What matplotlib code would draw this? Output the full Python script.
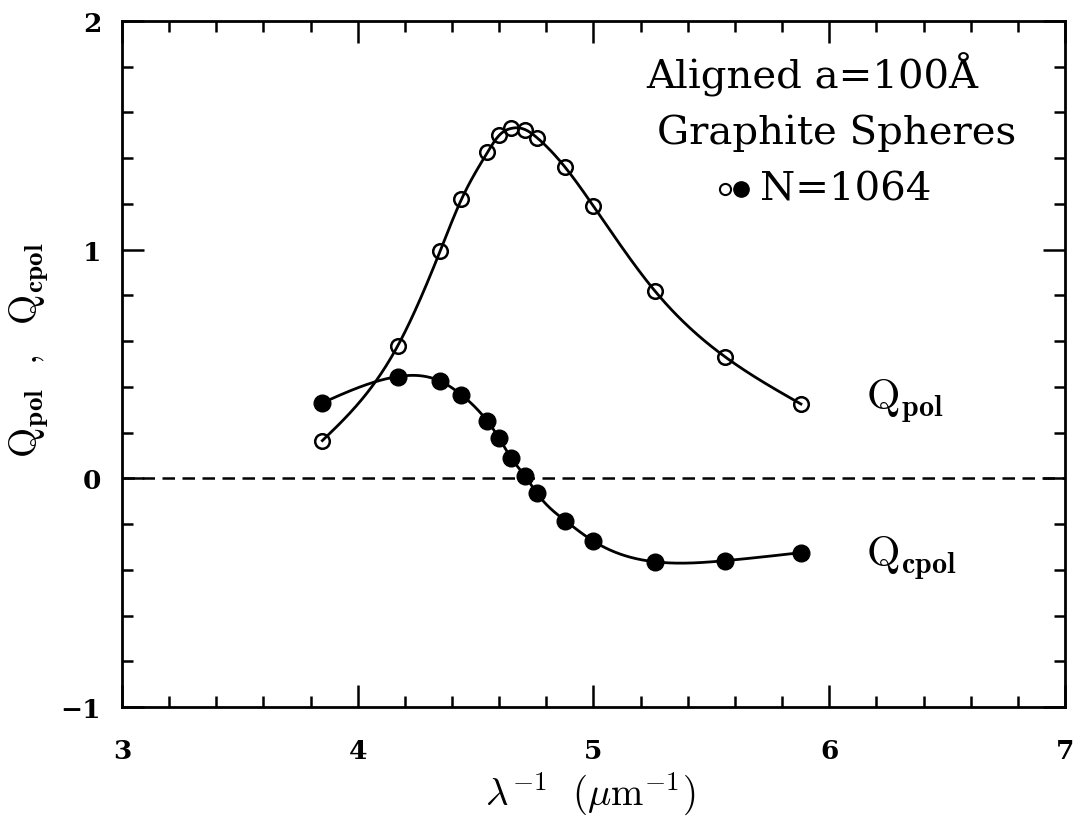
import numpy as np
import matplotlib
matplotlib.use('Agg')
import matplotlib.pyplot as plt
from matplotlib.ticker import MultipleLocator

plt.rcParams['mathtext.fontset'] = 'cm'

#========== datos (lambda^-1 en um^-1) ==========
inv_lambda = [3.85, 4.17, 4.35, 4.44, 4.55, 4.60, 4.65, 4.71, 4.76, 4.88, 5.00, 5.26, 5.56, 5.88]
q_pol = [0.165, 0.58, 0.995, 1.22, 1.425, 1.50, 1.53, 1.525, 1.49, 1.36, 1.19, 0.82, 0.53, 0.325]
q_cpol = [0.33, 0.445, 0.425, 0.365, 0.25, 0.175, 0.09, 0.01, -0.065, -0.185, -0.275, -0.365, -0.36, -0.325]


def spline(x, y, n=400):
    '''
    Spline cubico natural que pasa por los puntos (x,y)
    devuelve xs,ys para dibujar la curva suave
    '''
    x = np.asarray(x, float)
    y = np.asarray(y, float)
    h = np.diff(x)
    m = len(x)
    A = np.zeros((m, m))
    b = np.zeros(m)
    A[0, 0] = 1
    A[-1, -1] = 1
    for i in range(1, m - 1):
        A[i, i - 1] = h[i - 1]
        A[i, i] = 2 * (h[i - 1] + h[i])
        A[i, i + 1] = h[i]
        b[i] = 6 * ((y[i + 1] - y[i]) / h[i] - (y[i] - y[i - 1]) / h[i - 1])
    M = np.linalg.solve(A, b)
    xs = np.linspace(x[0], x[-1], n)
    k = np.clip(np.searchsorted(x, xs) - 1, 0, m - 2)
    t0 = xs - x[k]
    t1 = x[k + 1] - xs
    hk = h[k]
    ys = (M[k] * t1**3 + M[k + 1] * t0**3) / (6 * hk) \
        + (y[k] / hk - M[k] * hk / 6) * t1 + (y[k + 1] / hk - M[k + 1] * hk / 6) * t0
    return xs, ys


fig = plt.figure(figsize=(10.73, 8.2), dpi=100)
ax = fig.add_axes([0.1137, 0.1366, 0.8788, 0.8366])

# curvas suaves + puntos
xs, ys = spline(inv_lambda, q_pol)
ax.plot(xs, ys, 'k-', lw=2)
xs, ys = spline(inv_lambda, q_cpol)
ax.plot(xs, ys, 'k-', lw=2)
ax.plot(inv_lambda, q_pol, 'o', mfc='none', mec='k', mew=1.8, ms=10.5)
ax.plot(inv_lambda, q_cpol, 'o', mfc='k', mec='k', ms=12)

ax.axhline(0, color='k', lw=1.8, ls=(0, (5, 3)))

ax.set_xlim(3, 7)
ax.set_ylim(-1, 2)
ax.xaxis.set_major_locator(MultipleLocator(1))
ax.xaxis.set_minor_locator(MultipleLocator(0.2))
ax.yaxis.set_major_locator(MultipleLocator(1))
ax.yaxis.set_minor_locator(MultipleLocator(0.2))
ax.tick_params(which='both', direction='in', top=True, right=True, width=1.8)
ax.tick_params(which='major', length=16)
ax.tick_params(which='minor', length=8)
ax.tick_params(axis='x', which='major', pad=22)
ax.tick_params(axis='y', which='major', pad=15)
for s in ax.spines.values():
    s.set_linewidth(2)
ax.set_xticks([3, 4, 5, 6, 7])
ax.set_xticklabels(['3', '4', '5', '6', '7'], fontfamily='DejaVu Serif', fontweight='bold', fontsize=19)
ax.set_yticks([-1, 0, 1, 2])
ax.set_yticklabels(['\u22121', '0', '1', '2'], fontfamily='DejaVu Serif', fontweight='bold', fontsize=19)

# etiquetas de ejes
ax.text(0.496, -0.143, r'$\lambda^{-1}\ \ (\mu\mathrm{m}^{-1})$', transform=ax.transAxes,
        ha='center', va='baseline', fontsize=28)
ax.text(-0.098, 0.522, r'$\mathrm{Q}_{\mathbf{pol}}\ \ ,\ \ \mathrm{Q}_{\mathbf{cpol}}$',
        transform=ax.transAxes, rotation=90, ha='center', va='center', fontsize=28)

# nombres de las curvas
ax.text(6.156, 0.304, r'$\mathrm{Q}_{\mathbf{pol}}$', fontsize=31, ha='left', va='baseline')
ax.text(6.156, -0.383, r'$\mathrm{Q}_{\mathbf{cpol}}$', fontsize=31, ha='left', va='baseline')

# leyenda en texto
ax.text(5.927, 1.769, 'Aligned a=100\u00c5', fontfamily='DejaVu Serif', fontsize=29,
        ha='center', va='center')
ax.text(6.03, 1.515, 'Graphite Spheres', fontfamily='DejaVu Serif', fontsize=29,
        ha='center', va='center')
ax.plot([5.558], [1.266], 'o', mfc='none', mec='k', mew=1.5, ms=8)
ax.plot([5.626], [1.266], 'o', mfc='k', mec='k', ms=11)
ax.text(5.707, 1.266, 'N=1064', fontfamily='DejaVu Serif', fontsize=29,
        ha='left', va='center')

fig.savefig('out.png', dpi=100, facecolor='white')
